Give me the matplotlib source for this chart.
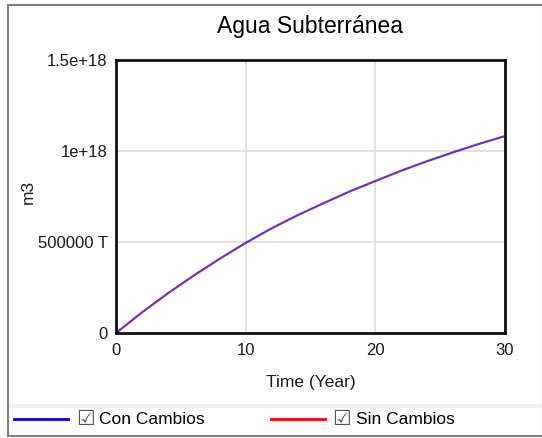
import matplotlib.pyplot as plt
from matplotlib.patches import Rectangle
from matplotlib.lines import Line2D

plt.rcParams['font.family'] = ['Liberation Sans', 'DejaVu Sans']

# Years simulated
years = [0, 2, 4, 6, 8, 10, 12, 14, 16, 18, 20, 22, 24, 26, 28, 30]
# Groundwater volume (m3), both scenarios give the same run
con_cambios = [0, 0.113e18, 0.218e18, 0.316e18, 0.408e18, 0.495e18, 0.575e18,
               0.647e18, 0.713e18, 0.777e18, 0.835e18, 0.892e18, 0.944e18,
               0.993e18, 1.039e18, 1.082e18]
sin_cambios = list(con_cambios)

x_ticks = [0, 10, 20, 30]
y_ticks = [0, 0.5e18, 1e18, 1.5e18]
y_tick_labels = ['0', '500000 T', '1e+18', '1.5e+18']

W, H = 542, 438
fig = plt.figure(figsize=(W / 100, H / 100), dpi=100)

# outer panel frame and legend separator
fig.patches.append(Rectangle((7.5 / W, 1 - 435.5 / H), (W - 7) / W, 431 / H,
                             transform=fig.transFigure, fill=False,
                             edgecolor='#808080', linewidth=1.5))
fig.patches.append(Rectangle((8.5 / W, 1 - 408 / H), (W - 9) / W, 4 / H,
                             transform=fig.transFigure, facecolor='#f0f0f0',
                             edgecolor='none'))

ax = fig.add_axes([116 / W, 1 - 333 / H, 389 / W, 273 / H])
# the two runs sit on top of each other, so the line reads as purple
ax.plot(years, sin_cambios, color='red', linewidth=1.5, alpha=0.5)
ax.plot(years, con_cambios, color='blue', linewidth=1.5, alpha=0.6)

ax.set_xlim(0, 30)
ax.set_ylim(0, 1.5e18)
ax.set_xticks(x_ticks)
ax.set_yticks(y_ticks)
ax.set_yticklabels(y_tick_labels)
ax.tick_params(length=0, labelsize=12, colors='#1a1a1a')
ax.tick_params(axis='x', pad=7)
ax.tick_params(axis='y', pad=6)
ax.grid(True, color='#dcdcdc', linewidth=1.2)
ax.set_axisbelow(True)
for s in ax.spines.values():
    s.set_linewidth(2)
    s.set_color('#111111')

fig.text(310 / W, 1 - 27 / H, 'Agua Subterránea', fontsize=16.5,
         ha='center', va='center')
fig.text(311 / W, 1 - 383 / H, 'Time (Year)', fontsize=12.5,
         ha='center', va='center', color='#1a1a1a')
fig.text(28 / W, 1 - 192 / H, 'm3', rotation=90, fontsize=12.5,
         ha='center', va='center', color='#1a1a1a')

# legend row
ly = 1 - 419 / H
items = [(14, 68, 'blue', 'Con Cambios'), (271, 325, 'red', 'Sin Cambios')]
for x0, x1, col, label in items:
    fig.lines.append(Line2D([x0 / W, x1 / W], [ly, ly], color=col,
                            linewidth=2, transform=fig.transFigure))
    fig.text((x1 + 17) / W, ly, '\u2611', fontsize=15, color='#555555',
             family='DejaVu Sans', ha='center', va='center')
    fig.text((x1 + 31) / W, ly, label, fontsize=12.5, ha='left', va='center')

fig.savefig('out.png', dpi=100)
